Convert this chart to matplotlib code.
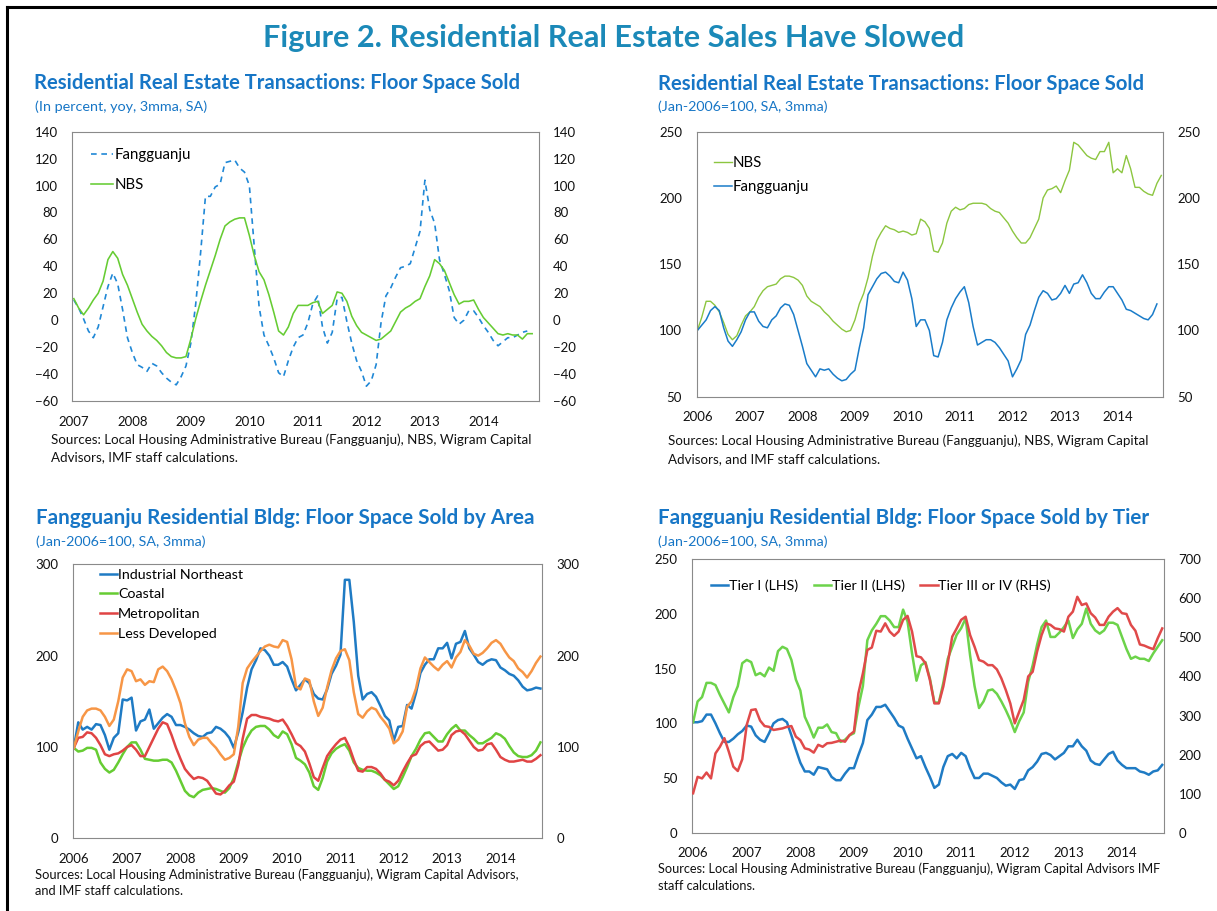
import numpy as np
import matplotlib
matplotlib.use('Agg')
import matplotlib.pyplot as plt
from matplotlib.lines import Line2D

W, H = 1217, 911
plt.rcParams['font.family'] = ['Lato', 'DejaVu Sans']

# ---- data (monthly) ----
years_07 = ['2007', '2008', '2009', '2010', '2011', '2012', '2013', '2014']
years_06 = ['2006'] + years_07

# panel 1: yoy %, Jan-2007 onward
p1_fang = [15, 9, 1, -8, -13, -5, 10, 25, 35, 27, 8, -13, -24, -33, -35, -38, -32, -34, -39, -43,
           -46, -48, -42, -34, -17, 12, 50, 92, 92, 99, 101, 117, 118, 119, 113, 110, 100, 55, 10, -11,
           -19, -28, -39, -42, -30, -20, -13, -11, -2, 12, 18, -5, -17, -9, 16, 17, -1, -17, -30, -38,
           -49, -45, -33, -2, 18, 24, 32, 39, 40, 42, 54, 66, 104, 82, 72, 45, 34, 22, 2, -3,
           0, 7, 7, 2, -4, -9, -15, -19, -16, -13, -13, -11, -9, -8]
p1_nbs = [16, 9, 4, 9, 15, 20, 29, 45, 51, 46, 34, 26, 16, 6, -3, -8, -12, -15, -19, -24,
          -27, -28, -28, -27, -14, 1, 14, 26, 37, 48, 60, 70, 73, 75, 76, 76, 63, 48, 36, 30,
          19, 6, -8, -11, -5, 5, 11, 11, 11, 13, 14, 5, 8, 11, 21, 20, 14, 3, -4, -9,
          -11, -13, -15, -14, -11, -8, -1, 6, 9, 11, 14, 16, 25, 33, 45, 42, 37, 28, 19, 12,
          14, 14, 15, 8, 2, -2, -6, -10, -11, -10, -11, -11, -14, -10, -10]

# panel 2: Jan-2006=100
p2_nbs = [100, 110, 122, 122, 119, 114, 106, 97, 93, 96, 104, 111, 114, 118, 125, 130, 133, 134, 135, 139,
          141, 141, 140, 138, 134, 126, 122, 120, 118, 114, 111, 107, 104, 101, 99, 100, 108, 120, 128, 140,
          156, 168, 174, 179, 177, 176, 174, 175, 174, 172, 173, 184, 182, 177, 160, 159, 166, 181, 190, 193,
          191, 192, 195, 196, 196, 196, 195, 192, 190, 189, 185, 181, 175, 170, 166, 166, 170, 177, 184, 200,
          206, 207, 209, 204, 213, 221, 242, 240, 236, 232, 230, 229, 235, 235, 242, 219, 222, 219, 232, 222,
          208, 208, 205, 203, 202, 211, 217]
p2_fang = [100, 104, 108, 115, 118, 115, 102, 92, 88, 93, 99, 108, 114, 114, 107, 103, 102, 108, 111, 117,
           120, 119, 112, 100, 88, 75, 70, 65, 71, 70, 71, 67, 64, 62, 63, 67, 70, 87, 102, 127,
           133, 139, 143, 144, 141, 137, 136, 144, 138, 124, 103, 108, 108, 100, 81, 80, 91, 108, 117, 124,
           129, 133, 121, 103, 89, 91, 93, 93, 91, 87, 82, 77, 65, 71, 78, 97, 104, 115, 125, 130,
           128, 123, 124, 128, 134, 128, 135, 136, 142, 136, 128, 124, 124, 129, 133, 133, 128, 123, 116, 115,
           113, 111, 109, 108, 112, 120]

# panel 3: by area, Jan-2006=100
p3_northeast = [99, 127, 119, 122, 119, 125, 124, 113, 97, 110, 115, 152, 151, 154, 118, 128, 130, 141, 120, 126,
                132, 136, 133, 124, 124, 122, 119, 115, 112, 111, 115, 116, 122, 120, 116, 110, 99, 116, 138, 165,
                185, 195, 208, 206, 200, 190, 190, 193, 188, 174, 162, 168, 174, 170, 158, 153, 152, 163, 180, 189,
                201, 283, 283, 237, 178, 152, 158, 160, 155, 145, 134, 129, 107, 122, 123, 146, 142, 159, 181, 190,
                196, 196, 208, 208, 214, 197, 213, 215, 227, 208, 201, 193, 190, 194, 196, 195, 187, 184, 180, 178,
                173, 166, 162, 163, 165, 164]
p3_coastal = [99, 95, 96, 99, 99, 97, 83, 76, 72, 75, 83, 92, 100, 105, 105, 97, 87, 86, 85, 85,
              86, 86, 83, 74, 63, 52, 47, 45, 50, 53, 54, 55, 54, 52, 50, 55, 66, 83, 99, 110,
              118, 122, 123, 123, 119, 113, 110, 117, 114, 103, 88, 85, 81, 72, 57, 53, 66, 84, 93, 98,
              101, 103, 96, 83, 77, 75, 74, 74, 72, 69, 64, 59, 54, 57, 67, 78, 90, 98, 108, 115,
              116, 111, 106, 106, 114, 120, 124, 118, 118, 113, 109, 104, 104, 107, 110, 115, 113, 109, 101, 94,
              90, 89, 89, 91, 96, 105]
p3_metro = [99, 110, 111, 116, 115, 110, 102, 92, 90, 92, 93, 96, 100, 102, 97, 90, 90, 100, 110, 120,
            127, 125, 113, 99, 87, 76, 70, 65, 67, 66, 63, 56, 49, 48, 52, 58, 62, 80, 109, 131,
            135, 135, 133, 132, 131, 129, 128, 130, 123, 114, 104, 101, 95, 82, 67, 63, 77, 90, 97, 103,
            108, 110, 100, 86, 74, 73, 78, 78, 76, 71, 64, 62, 58, 63, 73, 82, 90, 92, 101, 105,
            106, 101, 96, 97, 102, 113, 117, 118, 114, 107, 100, 96, 97, 103, 104, 97, 89, 86, 84, 84,
            85, 86, 84, 84, 87, 91]
p3_less = [99, 117, 133, 140, 142, 142, 140, 133, 123, 130, 150, 176, 185, 183, 172, 174, 168, 172, 171, 185,
           188, 183, 174, 162, 148, 126, 111, 102, 108, 110, 110, 104, 99, 92, 86, 88, 92, 122, 170, 186,
           193, 199, 205, 210, 212, 210, 209, 217, 215, 196, 166, 163, 175, 173, 150, 134, 143, 165, 184, 197,
           205, 207, 195, 160, 136, 132, 139, 143, 141, 133, 127, 120, 104, 108, 117, 144, 150, 164, 186, 198,
           193, 188, 184, 190, 194, 187, 198, 204, 217, 211, 202, 200, 203, 208, 214, 217, 213, 205, 198, 194,
           186, 182, 176, 183, 192, 199]

# panel 4: by tier, Jan-2006=100 (Tier III/IV on right axis)
p4_tier1 = [101, 101, 102, 108, 108, 100, 91, 83, 83, 86, 90, 93, 98, 97, 89, 85, 83, 91, 100, 103,
            104, 101, 89, 76, 64, 56, 56, 53, 60, 59, 58, 51, 48, 48, 54, 59, 59, 71, 82, 103,
            108, 115, 115, 117, 111, 105, 98, 96, 86, 77, 68, 70, 60, 51, 41, 44, 60, 70, 72, 68,
            73, 70, 59, 50, 50, 54, 54, 52, 50, 46, 43, 44, 40, 48, 49, 57, 60, 65, 72, 73,
            71, 67, 70, 73, 79, 79, 85, 79, 75, 66, 63, 62, 67, 72, 74, 66, 62, 59, 59, 59,
            56, 55, 53, 56, 57, 62]
p4_tier2 = [101, 120, 124, 137, 137, 135, 126, 118, 110, 124, 134, 155, 158, 156, 144, 146, 143, 151, 148, 166,
            170, 168, 158, 140, 130, 106, 97, 87, 96, 96, 99, 92, 91, 83, 85, 89, 91, 115, 134, 176,
            185, 191, 198, 198, 194, 188, 188, 204, 193, 164, 139, 153, 156, 141, 119, 119, 137, 159, 170, 181,
            187, 196, 162, 134, 114, 120, 130, 131, 127, 120, 112, 103, 92, 102, 110, 138, 153, 172, 188, 194,
            179, 179, 183, 188, 194, 178, 186, 191, 205, 191, 185, 182, 185, 192, 192, 190, 179, 168, 159, 161,
            159, 159, 157, 164, 170, 176]
p4_tier34 = [101, 143, 139, 154, 139, 203, 220, 242, 207, 169, 158, 188, 276, 314, 316, 287, 273, 271, 263, 265,
             267, 271, 273, 246, 237, 216, 213, 205, 225, 220, 229, 230, 233, 236, 233, 250, 259, 357, 408, 468,
             474, 517, 515, 536, 515, 504, 515, 545, 555, 515, 452, 449, 434, 391, 331, 331, 374, 434, 502, 523,
             545, 553, 506, 476, 442, 438, 429, 429, 418, 395, 365, 331, 280, 310, 340, 400, 412, 464, 506, 536,
             532, 523, 521, 515, 553, 566, 604, 583, 587, 562, 551, 532, 532, 553, 566, 575, 562, 560, 532, 517,
             482, 479, 474, 470, 498, 523]

TITLE_C = '#1B89B8'
HEAD_C = '#1776C6'
SPINE_C = '#8a8a8a'

fig = plt.figure(figsize=(W / 100, H / 100), dpi=100)
renderer = fig.canvas.get_renderer()


def box(l, t, r, b):
    return [l / W, 1 - b / H, (r - l) / W, (b - t) / H]


def put(x, y, s, width=None, size=9, **kw):
    # place text by its left edge / vertical centre in pixels, optionally fitted to a width
    t = fig.text(x / W, 1 - y / H, s, va='center', ha=kw.pop('ha', 'left'), fontsize=size, **kw)
    if width:
        w = t.get_window_extent(renderer).width
        t.set_fontsize(size * width / w)
    return t.get_fontsize()


def setup(ax, xlim, years, ylim, ystep, rlim=None, rstep=None):
    ax.set_xlim(*xlim)
    ax.set_ylim(*ylim)
    ax.set_xticks(np.arange(len(years)) * 12)
    ax.set_xticklabels(years)
    ax.set_yticks(np.arange(ylim[0], ylim[1] + 1, ystep))
    ax.tick_params(length=0, labelsize=9.5, pad=10.5, colors='#111111')
    for s in ax.spines.values():
        s.set_color(SPINE_C)
        s.set_linewidth(0.8)
    ax2 = ax.twinx()
    if rlim is None:
        rlim, rstep = ylim, ystep
    ax2.set_ylim(*rlim)
    ax2.set_yticks(np.arange(rlim[0], rlim[1] + 1, rstep))
    ax2.tick_params(length=0, labelsize=9.5, pad=10.5, colors='#111111')
    for s in ax2.spines.values():
        s.set_visible(False)
    return ax2


def legend(ax, handles, x, ytop, size, hl, tp, ls, ncol=1, cs=1.0):
    ax.legend(handles=handles, loc='upper left', bbox_to_anchor=(x / W, 1 - ytop / H),
              bbox_transform=fig.transFigure, frameon=False, borderpad=0, borderaxespad=0,
              fontsize=size, handlelength=hl, handletextpad=tp, labelspacing=ls,
              ncol=ncol, columnspacing=cs)


# ---- panel 1 ----
ax1 = fig.add_axes(box(72.4, 131.7, 538.5, 401))
ax1r = setup(ax1, (-0.29, 95.3), years_07, (-60, 140), 20)
l1a, = ax1.plot(np.arange(len(p1_fang)), p1_fang, color='#2088D6', lw=1.2,
                linestyle=(0, (3.4, 2.8)), label='Fangguanju')
l1b, = ax1.plot(np.arange(len(p1_nbs)), p1_nbs, color='#66CC33', lw=1.15, label='NBS')
legend(ax1, [l1a, l1b], 91, 148, 10.8, 1.45, 0.1, 1.05)

# ---- panel 2 ----
ax2 = fig.add_axes(box(696.7, 131.7, 1162.6, 396.7))
setup(ax2, (-0.16, 106.3), years_06, (50, 250), 50)
l2a, = ax2.plot(np.arange(len(p2_nbs)), p2_nbs, color='#8CC640', lw=1.0, label='NBS')
l2b, = ax2.plot(np.arange(len(p2_fang)), p2_fang, color='#1A7CC9', lw=1.1, label='Fangguanju')
legend(ax2, [l2a, l2b], 714, 156, 10.8, 1.2, 0.05, 0.65)

# ---- panel 3 ----
ax3 = fig.add_axes(box(73.1, 564.3, 542.2, 838.3))
setup(ax3, (-0.16, 105.4), years_06, (0, 300), 100)
m = np.arange(len(p3_northeast))
l3a, = ax3.plot(m, p3_northeast, color='#1F7BC4', lw=1.8, label='Industrial Northeast')
l3b, = ax3.plot(m, p3_coastal, color='#66CC33', lw=1.8, label='Coastal')
l3c, = ax3.plot(m, p3_metro, color='#E04444', lw=1.8, label='Metropolitan')
l3d, = ax3.plot(m, p3_less, color='#F79646', lw=1.8, label='Less Developed')
legend(ax3, [l3a, l3b, l3c, l3d], 100, 568.5, 10.3, 1.2, 0.05, 0.55)

# ---- panel 4 ----
ax4 = fig.add_axes(box(692, 559.3, 1164, 832.7))
ax4r = setup(ax4, (-0.25, 105.4), years_06, (0, 250), 50, (0, 700), 100)
m = np.arange(len(p4_tier1))
l4a, = ax4.plot(m, p4_tier1, color='#1F7BC4', lw=1.8, label='Tier I (LHS)')
l4b, = ax4.plot(m, p4_tier2, color='#6CD34A', lw=1.8, label='Tier II (LHS)')
l4c, = ax4r.plot(m, p4_tier34, color='#E04A4A', lw=1.8, label='Tier III or IV (RHS)')
legend(ax4r, [l4a, l4b, l4c], 711, 579, 10.3, 1.2, 0.05, 0.3, ncol=3, cs=1.1)

# ---- texts ----
put(613.5, 38, 'Figure 2. Residential Real Estate Sales Have Slowed', width=699, size=19,
    ha='center', color=TITLE_C, fontweight='bold')

put(34, 83, 'Residential Real Estate Transactions: Floor Space Sold', width=483, size=12,
    color=HEAD_C, fontweight='bold')
put(35, 107, '(In percent, yoy, 3mma, SA)', width=173, size=9, color=HEAD_C)
put(658, 84, 'Residential Real Estate Transactions: Floor Space Sold', width=483, size=12,
    color=HEAD_C, fontweight='bold')
put(658, 107, '(Jan-2006=100, SA, 3mma)', width=171, size=9, color=HEAD_C)
put(35.6, 518, 'Fangguanju Residential Bldg: Floor Space Sold by Area', width=497, size=12,
    color=HEAD_C, fontweight='bold')
put(35.6, 541.7, '(Jan-2006=100, SA, 3mma)', width=171, size=9, color=HEAD_C)
put(658.5, 518, 'Fangguanju Residential Bldg: Floor Space Sold by Tier', width=488, size=12,
    color=HEAD_C, fontweight='bold')
put(658.5, 541.7, '(Jan-2006=100, SA, 3mma)', width=171, size=9, color=HEAD_C)

src = dict(color='#111111')
fs = put(51, 440, 'Sources: Local Housing Administrative Bureau (Fangguanju), NBS, Wigram Capital',
         width=481, size=8.5, **src)
put(51, 457, 'Advisors, IMF staff calculations.', size=fs, **src)
fs = put(668.5, 441, 'Sources: Local Housing Administrative Bureau (Fangguanju), NBS, Wigram Capital',
         width=480, size=8.5, **src)
put(668.5, 459, 'Advisors, and IMF staff calculations.', size=fs, **src)
fs = put(35.4, 875, 'Sources: Local Housing Administrative Bureau (Fangguanju), Wigram Capital Advisors,',
         width=488, size=8, **src)
put(35.4, 891, 'and IMF staff calculations.', size=fs, **src)
fs = put(658, 869, 'Sources: Local Housing Administrative Bureau (Fangguanju), Wigram Capital Advisors IMF',
         width=508, size=8, **src)
put(658, 886, 'staff calculations.', size=fs, **src)

# outer frame (only top and left edges fall inside the picture)
fig.add_artist(Line2D([7 / W, 7 / W], [0, 1 - 7 / H], transform=fig.transFigure, color='black', lw=2.2))
fig.add_artist(Line2D([7 / W, 1], [1 - 7 / H, 1 - 7 / H], transform=fig.transFigure, color='black', lw=2.2))

fig.savefig('out.png', dpi=100)
